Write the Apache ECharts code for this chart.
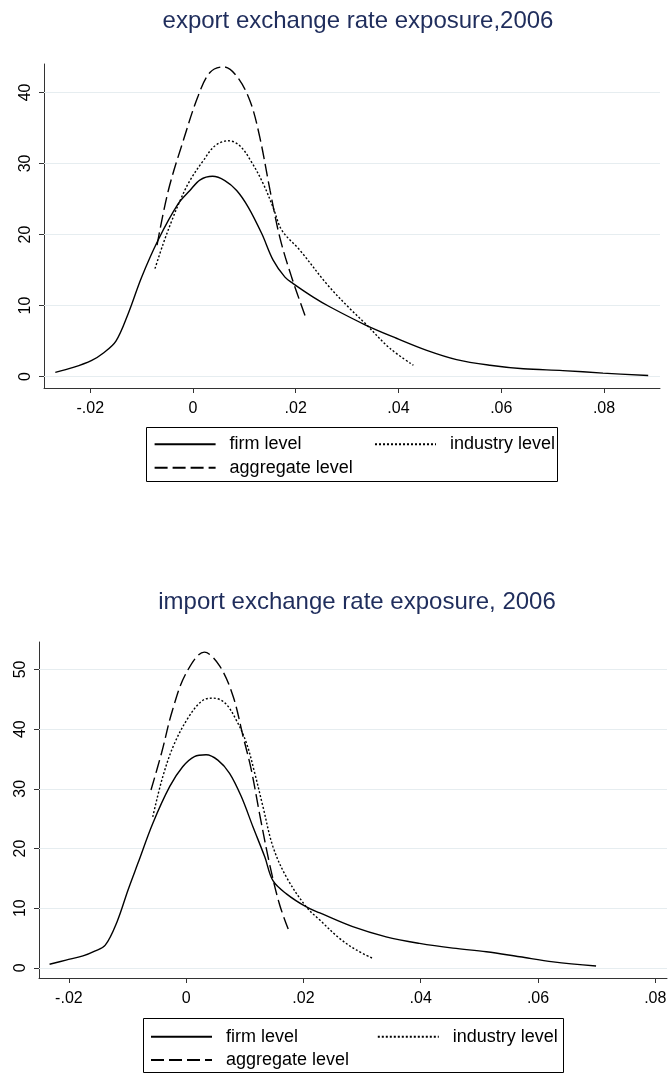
<!DOCTYPE html>
<html><head><meta charset="utf-8">
<script src="https://cdn.jsdelivr.net/npm/echarts@6/dist/echarts.min.js"></script>
<style>html,body{margin:0;padding:0;background:#fff}#c{width:670px;height:1074px}</style>
</head><body><div id="c"></div>
<script>
// ---------- data ----------
const seriesNames = ['firm level', 'industry level', 'aggregate level'];
const titles = ['export exchange rate exposure,2006', 'import exchange rate exposure, 2006'];
const xTickValues = [-0.02, 0, 0.02, 0.04, 0.06, 0.08];
const xTickLabels = ['-.02', '0', '.02', '.04', '.06', '.08'];
const yTicksExport = [0, 10, 20, 30, 40];
const yTicksImport = [0, 10, 20, 30, 40, 50];

// export, 2006
const exportFirmX = [-0.0268,-0.0233,-0.0197,-0.0175,-0.0150,-0.0126,-0.0100,-0.0068,-0.0029,-0.0006,0.0014,0.0038,0.0062,0.0085,0.0108,0.0134,0.0156,0.0179,0.0195,0.0234,0.0267,0.0335,0.0396,0.0455,0.0513,0.0578,0.0643,0.0720,0.0798,0.0886];
const exportFirmY = [0.6,1.3,2.3,3.3,5.0,8.9,14.0,19.2,24.3,26.2,27.7,28.2,27.6,26.2,23.8,20.1,16.4,14.0,13.1,11.2,9.8,7.3,5.4,3.7,2.4,1.6,1.1,0.85,0.5,0.15];
const exportIndustryX = [-0.0074,-0.0058,-0.0041,-0.0025,-0.0006,0.0020,0.0043,0.0069,0.0091,0.0114,0.0137,0.0156,0.0173,0.0208,0.0262,0.0305,0.0335,0.0383,0.0429];
const exportIndustryY = [15.2,18.7,22.0,24.8,27.6,30.4,32.5,33.2,32.5,30.2,27.1,23.8,20.6,17.8,12.9,9.6,7.5,4.0,1.6];
const exportAggregateX = [-0.0070,-0.0048,-0.0019,0.0010,0.0033,0.0059,0.0085,0.0111,0.0130,0.0150,0.0169,0.0192,0.0218];
const exportAggregateY = [18.5,26.2,33.2,39.5,42.8,43.6,42.3,38.8,33.7,26.2,19.6,14.0,8.6];

// import, 2006
const importFirmX = [-0.0233,-0.0205,-0.0176,-0.0156,-0.0138,-0.0118,-0.0099,-0.0082,-0.0057,-0.0028,-0.0006,0.0014,0.0034,0.0054,0.0074,0.0094,0.0114,0.0134,0.0148,0.0171,0.0205,0.0228,0.0284,0.0341,0.0398,0.0455,0.0512,0.0569,0.0626,0.0699];
const importFirmY = [0.6,1.3,2.0,2.8,3.8,7.7,13.1,17.6,24.2,30.4,33.7,35.4,35.7,34.8,32.6,28.7,23.6,18.6,14.6,12.4,10.2,9.2,6.9,5.2,4.1,3.3,2.7,1.85,1.0,0.3];
const importIndustryX = [-0.0057,-0.0040,-0.0020,0.0006,0.0028,0.0046,0.0066,0.0085,0.0103,0.0117,0.0131,0.0148,0.0171,0.0205,0.0228,0.0262,0.0290,0.0318];
const importIndustryY = [25.3,32.0,37.6,42.3,44.8,45.2,44.4,41.6,37.6,32.6,27.0,20.3,15.2,10.2,8.0,4.9,3.0,1.6];
const importAggregateX = [-0.0060,-0.0042,-0.0023,0.0000,0.0031,0.0057,0.0080,0.0097,0.0111,0.0125,0.0142,0.0159,0.0174];
const importAggregateY = [29.8,36.0,43.3,49.4,52.9,50.6,45.5,38.8,33.2,25.9,17.5,10.7,6.5];

// ---------- build ----------
const FONT = '"Liberation Sans", Arial, sans-serif';
const zip = (xs, ys) => xs.map((x, i) => [x, ys[i]]);
const lineTypes = ['solid', [2, 2], [13, 5]];
const gridColor = '#e6edf0';
const axisColor = '#333';

function xLabel(v) {
  for (let i = 0; i < xTickValues.length; i++) if (Math.abs(xTickValues[i] - v) < 1e-9) return xTickLabels[i];
  return '';
}

function makeSeries(gi, datasets, yTicks) {
  return datasets.map((d, k) => {
    const s = {
      name: seriesNames[k], type: 'line', xAxisIndex: gi, yAxisIndex: gi,
      data: d, symbol: 'none', showSymbol: false, smooth: 0.35, animation: false,
      lineStyle: { color: '#000', width: 1.4, type: lineTypes[k] },
      itemStyle: { color: '#000' }, z: 3
    };
    if (k === 0) {
      s.markLine = {
        silent: true, symbol: ['none', 'none'], animation: false, z: 1,
        label: { show: false },
        lineStyle: { color: gridColor, type: 'solid', width: 1.2 },
        data: yTicks.map(v => ({ yAxis: v }))
      };
    }
    return s;
  });
}

function xAxis(gi, min, max) {
  return {
    type: 'value', gridIndex: gi, min: min, max: max,
    axisLine: { show: true, onZero: false, lineStyle: { color: axisColor, width: 1 } },
    axisTick: { show: true, length: 5, customValues: xTickValues, lineStyle: { color: axisColor } },
    axisLabel: { customValues: xTickValues, formatter: xLabel, margin: 13, fontFamily: FONT, fontSize: 16, color: '#000' },
    splitLine: { show: false }
  };
}
function yAxis(gi, min, max, ticks) {
  return {
    type: 'value', gridIndex: gi, min: min, max: max,
    axisLine: { show: true, onZero: false, lineStyle: { color: axisColor, width: 1 } },
    axisTick: { show: true, length: 5, customValues: ticks, lineStyle: { color: axisColor } },
    axisLabel: { customValues: ticks, rotate: 90, margin: 10, fontFamily: FONT, fontSize: 16, color: '#000' },
    splitLine: { show: false }
  };
}
function legend(name, left, centerY) {
  return {
    data: [name], left: left, top: centerY - 9, padding: 0, itemWidth: 61, itemHeight: 18,
    selectedMode: false,
    itemStyle: { opacity: 0, borderWidth: 0 },
    textStyle: { fontFamily: FONT, fontSize: 18, color: '#000', lineHeight: 18, padding: [0, 0, 0, 9] }
  };
}

const option = {
  backgroundColor: '#fff',
  animation: false,
  title: [
    { text: titles[0], left: 358, top: 9, textAlign: 'center', padding: 0,
      textStyle: { fontFamily: FONT, fontSize: 24, fontWeight: 'normal', color: '#1f2d5c' } },
    { text: titles[1], left: 357, top: 590, textAlign: 'center', padding: 0,
      textStyle: { fontFamily: FONT, fontSize: 24, fontWeight: 'normal', color: '#1f2d5c' } }
  ],
  grid: [
    { left: 44, top: 64, width: 616, height: 324 },
    { left: 39, top: 642, width: 628, height: 336 }
  ],
  xAxis: [xAxis(0, -0.029, 0.0909), xAxis(1, -0.0251, 0.082)],
  yAxis: [yAxis(0, -1.6, 44, yTicksExport), yAxis(1, -1.7, 54.6, yTicksImport)],
  legend: [
    legend(seriesNames[0], 153.6, 444.3),
    legend(seriesNames[1], 374, 444.3),
    legend(seriesNames[2], 153.6, 467.7),
    legend(seriesNames[0], 150, 1036.7),
    legend(seriesNames[1], 376.8, 1036.7),
    legend(seriesNames[2], 150, 1060)
  ],
  graphic: [
    { type: 'rect', shape: { x: 146.5, y: 427.5, width: 411, height: 54 }, style: { fill: 'none', stroke: '#000', lineWidth: 1 }, silent: true },
    { type: 'rect', shape: { x: 143.5, y: 1018.5, width: 420, height: 54 }, style: { fill: 'none', stroke: '#000', lineWidth: 1 }, silent: true }
  ],
  series: [].concat(
    makeSeries(0, [zip(exportFirmX, exportFirmY), zip(exportIndustryX, exportIndustryY), zip(exportAggregateX, exportAggregateY)], yTicksExport),
    makeSeries(1, [zip(importFirmX, importFirmY), zip(importIndustryX, importIndustryY), zip(importAggregateX, importAggregateY)], yTicksImport)
  )
};

const chart = echarts.init(document.getElementById('c'), null, { renderer: 'canvas' });
chart.setOption(option);
</script>
</body></html>
